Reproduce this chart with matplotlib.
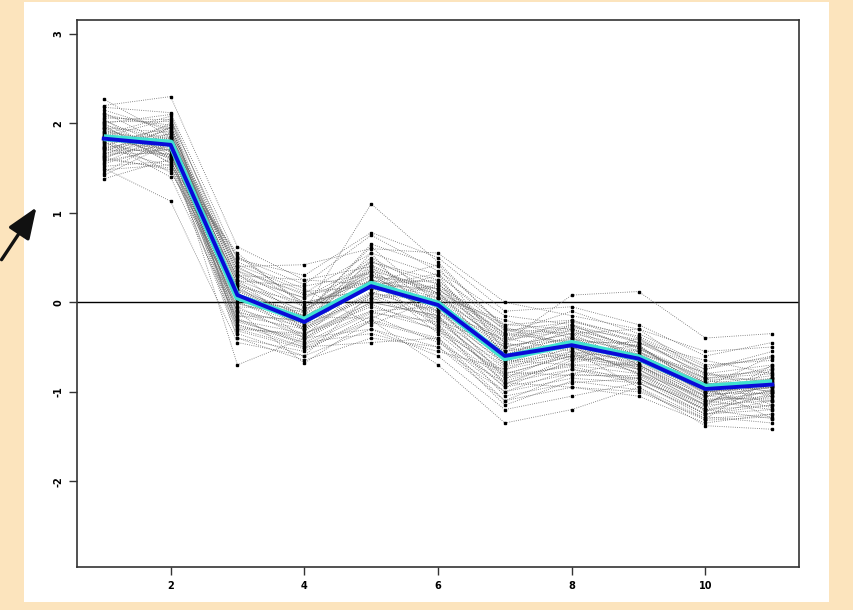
import numpy as np
import matplotlib
matplotlib.use("Agg")
import matplotlib.pyplot as plt
from matplotlib.patches import Rectangle, FancyArrowPatch

# positions along the profile
x = list(range(1, 12))

# individual profiles
profiles = [
    [2.27, 1.85, 0.35, 0.10, 0.55, 0.30, -0.25, -0.20, -0.40, -0.75, -0.60],
    [1.38, 1.60, -0.25, -0.45, -0.10, -0.30, -0.95, -0.80, -0.85, -1.20, -1.15],
    [2.20, 2.30, 0.62, 0.25, 0.40, 0.10, -0.50, -0.35, -0.50, -0.90, -1.00],
    [1.50, 1.13, -0.45, -0.60, -0.30, -0.50, -1.10, -0.95, -1.00, -1.30, -1.25],
    [1.95, 1.90, 0.20, -0.10, 1.10, 0.45, -0.30, -0.50, -0.70, -1.05, -0.85],
    [1.70, 1.70, -0.70, -0.40, 0.05, -0.20, -0.80, -0.60, -0.75, -1.10, -1.05],
    [1.85, 2.05, 0.40, 0.42, 0.60, 0.55, 0.00, -0.15, -0.30, -0.55, -0.50],
    [1.60, 1.50, -0.10, -0.68, -0.20, -0.70, -1.35, -1.20, -0.95, -1.38, -1.42],
    [2.10, 1.95, 0.25, -0.05, 0.30, 0.15, -0.45, 0.08, 0.12, -0.40, -0.35],
    [1.75, 1.65, 0.00, -0.30, 0.10, -0.10, -0.70, -0.55, -0.65, -1.00, -0.95],
    [1.90, 1.80, 0.15, -0.20, 0.25, 0.05, -0.55, -0.40, -0.55, -0.85, -0.80],
    [1.45, 1.85, -0.30, -0.50, -0.45, -0.40, -1.00, -0.85, -0.90, -1.25, -1.20],
    [2.05, 1.60, 0.50, 0.20, 0.75, 0.35, -0.15, -0.25, -0.45, -0.80, -0.70],
    [1.65, 1.95, 0.05, -0.15, 0.20, 0.25, -0.40, -0.30, -0.50, -0.95, -0.90],
    [1.80, 1.40, -0.20, -0.35, -0.05, -0.25, -0.85, -0.70, -0.80, -1.15, -1.10],
    [2.00, 2.10, 0.30, 0.05, 0.45, 0.20, -0.35, -0.10, -0.35, -0.70, -0.65],
    [1.55, 1.75, -0.40, -0.55, -0.15, -0.45, -0.90, -0.75, -0.85, -1.20, -1.30],
    [1.88, 1.70, 0.10, -0.25, 0.35, -0.05, -0.65, -0.45, -0.60, -1.02, -0.88],
    [1.72, 1.88, 0.18, 0.00, 0.15, 0.00, -0.50, -0.35, -0.70, -1.10, -1.00],
    [1.98, 1.55, -0.05, -0.40, 0.00, -0.15, -0.75, -0.60, -0.55, -0.90, -1.05],
    [1.62, 1.82, 0.22, -0.10, 0.50, 0.10, -0.40, -0.55, -0.75, -1.15, -0.75],
    [2.15, 1.92, -0.15, -0.30, 0.25, -0.35, -0.95, -0.65, -0.40, -0.85, -1.15],
    [1.78, 1.62, 0.45, 0.15, -0.25, 0.05, -0.20, -0.40, -0.65, -1.05, -0.95],
    [1.92, 1.78, -0.35, -0.60, 0.10, 0.30, -0.60, -0.30, -0.60, -0.95, -0.60],
    [1.68, 2.00, 0.05, -0.20, 0.40, -0.25, -1.05, -0.90, -0.85, -1.25, -1.10],
    [1.83, 1.45, 0.30, 0.25, 0.20, 0.15, -0.35, -0.45, -0.45, -0.65, -0.80],
    [1.58, 1.72, -0.20, -0.45, -0.35, -0.55, -0.75, -0.50, -0.80, -1.20, -1.05],
    [2.08, 1.98, 0.12, -0.15, 0.65, 0.40, -0.55, -0.25, -0.55, -1.00, -0.95],
    [1.73, 1.52, 0.55, -0.05, 0.30, -0.10, -0.65, -0.70, -0.70, -1.10, -1.20],
    [1.95, 1.68, -0.10, -0.35, -0.10, -0.05, -0.85, -0.55, -0.95, -1.30, -0.85],
    [1.80, 1.88, 0.20, -0.25, 0.05, 0.20, -0.30, -0.35, -0.30, -0.80, -0.90],
    [1.52, 1.58, -0.05, -0.10, 0.35, -0.20, -0.50, -0.65, -0.60, -0.90, -1.00],
    [2.12, 1.75, 0.40, 0.00, 0.15, 0.05, -0.70, -0.40, -0.75, -1.15, -0.70],
    [1.88, 2.08, -0.25, -0.50, -0.20, -0.40, -1.10, -0.80, -0.65, -0.95, -1.30],
    [1.67, 1.66, 0.15, -0.15, 0.45, 0.25, -0.45, -0.20, -0.45, -0.75, -0.55],
    [1.98, 1.82, -0.30, -0.35, 0.00, -0.15, -0.90, -0.95, -1.05, -1.35, -1.25],
    [1.76, 1.92, 0.35, -0.05, 0.25, 0.10, -0.25, -0.30, -0.50, -0.85, -0.75],
    [1.62, 1.48, 0.00, -0.25, 0.55, -0.30, -0.80, -0.60, -0.70, -1.05, -1.10],
    [2.02, 2.02, 0.25, -0.30, 0.10, 0.00, -0.60, -0.50, -0.80, -1.05, -0.95],
    [1.86, 1.72, -0.15, -0.20, 0.20, -0.10, -0.55, -0.45, -0.60, -0.95, -0.85],
    [1.42, 1.78, 0.10, -0.40, -0.30, -0.60, -1.20, -1.05, -0.90, -1.28, -1.35],
    [2.18, 2.12, 0.48, 0.30, 0.78, 0.50, -0.10, -0.05, -0.25, -0.60, -0.45],
    [1.90, 1.60, -0.40, -0.65, -0.40, -0.50, -1.00, -0.75, -0.90, -1.25, -1.15],
    [1.70, 1.85, 0.28, 0.05, 0.35, 0.15, -0.38, -0.28, -0.42, -0.82, -0.78],
    [1.82, 1.70, -0.08, -0.28, 0.12, -0.12, -0.68, -0.52, -0.68, -1.02, -1.02],
    [1.56, 1.90, 0.32, -0.18, 0.42, 0.05, -0.45, -0.62, -0.78, -1.18, -0.98],
    [2.00, 1.65, -0.22, -0.42, -0.02, -0.32, -0.88, -0.68, -0.52, -0.88, -0.92],
    [1.74, 1.98, 0.02, -0.08, 0.28, 0.22, -0.58, -0.38, -0.58, -0.92, -0.82],
    [1.94, 1.56, 0.18, -0.32, 0.08, -0.18, -0.72, -0.58, -0.72, -1.08, -1.08],
    [1.64, 1.76, -0.12, -0.22, 0.38, 0.08, -0.48, -0.42, -0.48, -0.98, -0.88],
    [2.06, 2.04, 0.42, 0.12, 0.18, 0.32, -0.32, -0.22, -0.38, -0.72, -0.62],
    [1.48, 1.54, -0.32, -0.52, -0.22, -0.42, -1.15, -0.88, -0.98, -1.32, -1.28],
    [1.84, 1.80, 0.08, -0.12, 0.62, -0.02, -0.62, -0.48, -0.66, -1.00, -0.92],
    [1.78, 1.95, 0.38, 0.08, 0.22, 0.42, -0.28, -0.48, -0.58, -0.78, -0.98],
    [1.96, 1.62, -0.18, -0.48, -0.12, -0.22, -0.78, -0.82, -0.82, -1.22, -1.02],
    [1.66, 1.84, 0.14, -0.28, 0.48, -0.08, -0.42, -0.32, -0.62, -0.90, -0.72],
    [2.03, 1.73, -0.02, -0.16, -0.18, 0.12, -0.66, -0.58, -0.48, -0.98, -1.18],
    [1.60, 1.96, 0.24, 0.18, 0.32, -0.16, -0.92, -0.62, -0.72, -1.12, -0.92],
    [1.86, 1.64, 0.52, -0.02, 0.02, 0.18, -0.36, -0.26, -0.52, -0.86, -0.86],
    [1.72, 1.86, -0.28, -0.38, 0.26, -0.28, -0.82, -0.72, -0.88, -1.14, -0.98],
]

# summary lines
center = [1.84, 1.78, 0.06, -0.20, 0.20, -0.02, -0.62, -0.46, -0.62, -0.95, -0.90]
mean = [1.83, 1.76, 0.08, -0.22, 0.18, -0.03, -0.60, -0.48, -0.63, -0.97, -0.92]

fig = plt.figure(figsize=(8.54, 6.10), dpi=100)
fig.patch.set_facecolor("#fce4bd")
fig.add_artist(Rectangle((24 / 854, 1 - 602 / 610), 805 / 854, 600 / 610,
                         transform=fig.transFigure, facecolor="white",
                         edgecolor="none", zorder=0))

ax = fig.add_axes([77 / 854, 1 - 567 / 610, 722 / 854, 547 / 610])
ax.set_facecolor("white")

for p in profiles:
    ax.plot(x, p, ls=":", color="#666666", lw=0.6, zorder=2)
    ax.plot(x, p, ls="none", marker="s", ms=1.8, color="black", zorder=3)

ax.axhline(0, color="black", lw=1.0, zorder=1)
ax.plot(x, center, color="#40e0d0", lw=5, solid_capstyle="butt", zorder=4)
ax.plot(x, mean, color="#0a0ad8", lw=2.8, zorder=5)

ax.set_xlim(0.6, 11.4)
ax.set_ylim(-2.96, 3.156)
ax.set_xticks([2, 4, 6, 8, 10])
ax.set_yticks([-2, -1, 0, 1, 2, 3])
ax.set_xticklabels(["2", "4", "6", "8", "10"], fontsize=7, fontweight="bold")
ax.set_yticklabels(["-2", "-1", "0", "1", "2", "3"], fontsize=7,
                   fontweight="bold", rotation=90, va="center")
ax.tick_params(length=6, width=1, color="#333333", pad=4)
for s in ax.spines.values():
    s.set_color("#333333")
    s.set_linewidth(1.2)

# arrow pointing at the panel
fig.add_artist(FancyArrowPatch((0 / 854, 1 - 262 / 610), (38 / 854, 1 - 205 / 610),
                               transform=fig.transFigure,
                               arrowstyle="-|>,head_length=1.9,head_width=0.75",
                               mutation_scale=10, lw=2.4, color="#111111"))

fig.savefig("out.png", dpi=100, facecolor=fig.get_facecolor())
